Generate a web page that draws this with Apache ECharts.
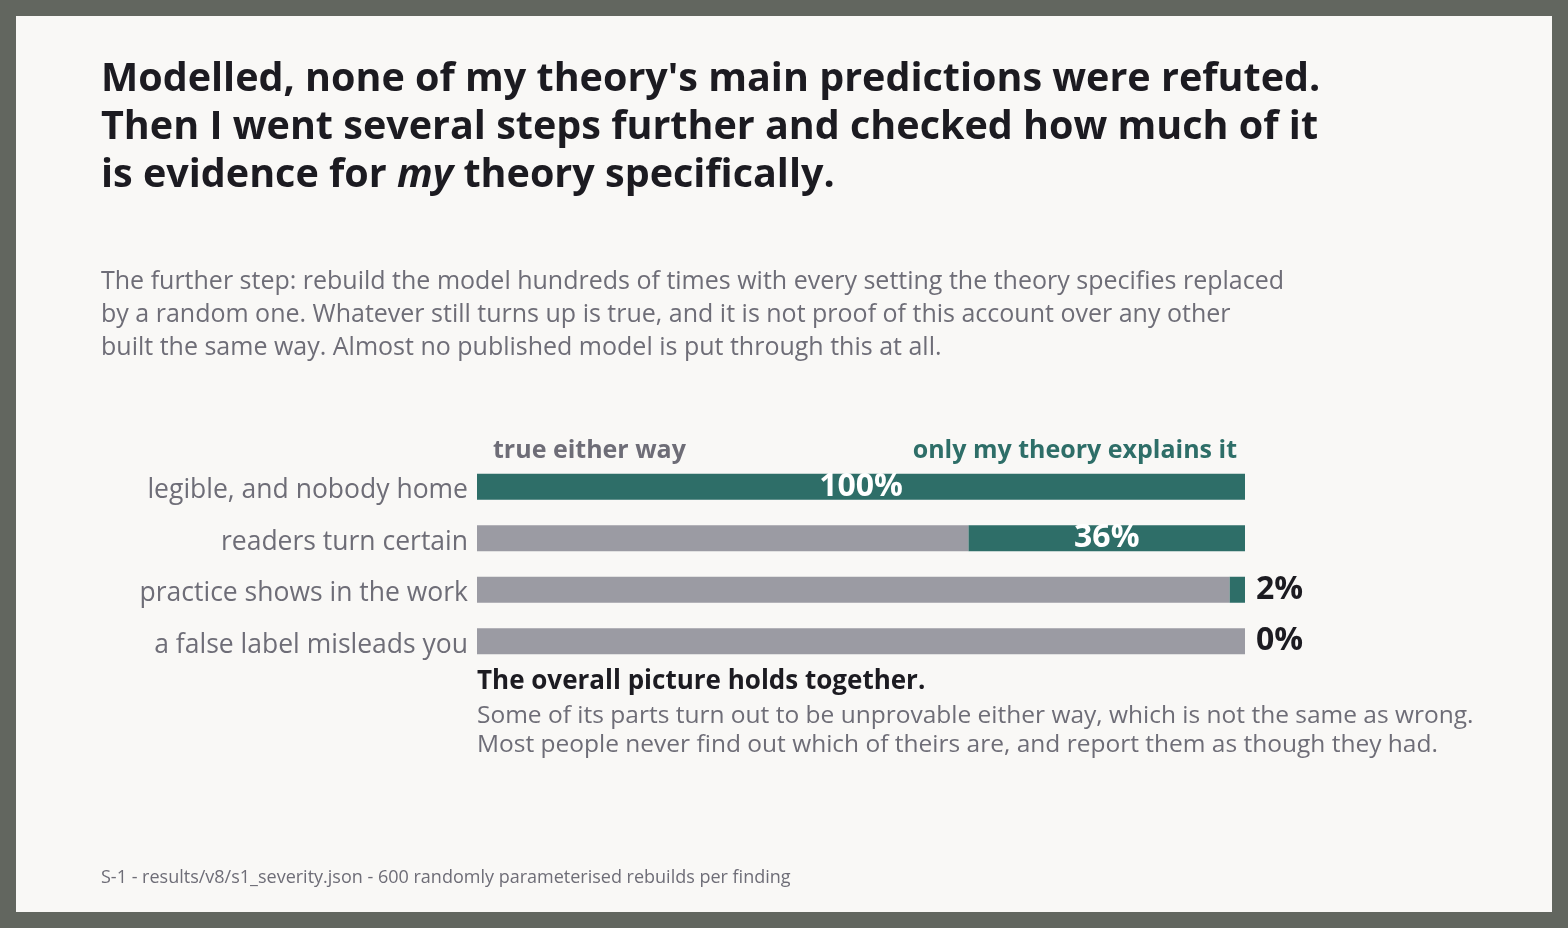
<!DOCTYPE html>
<html><head><meta charset="utf-8">
<script src="https://cdn.jsdelivr.net/npm/echarts@6/dist/echarts.min.js"></script>
<style>
html,body{margin:0;padding:0;background:#62665f;}
#c{position:absolute;left:16px;top:16px;width:1536px;height:896px;background:#f9f8f6;}
</style></head>
<body><div id="c"></div>
<script>
const categories = ["legible, and nobody home","readers turn certain","practice shows in the work","a false label misleads you"];
const trueEitherWay = [0, 64, 98, 100];
const onlyMyTheory = [100, 36, 2, 0];
const seriesNames = ["true either way","only my theory explains it"];
const titleLines = ["Modelled, none of my theory's main predictions were refuted.","Then I went several steps further and checked how much of it"];
const subtitleLines = ["The further step: rebuild the model hundreds of times with every setting the theory specifies replaced","by a random one. Whatever still turns up is true, and it is not proof of this account over any other","built the same way. Almost no published model is put through this at all."];
const noteHead = "The overall picture holds together.";
const noteLines = ["Some of its parts turn out to be unprovable either way, which is not the same as wrong.","Most people never find out which of theirs are, and report them as though they had."];
const footer = "S-1 - results/v8/s1_severity.json - 600 randomly parameterised rebuilds per finding";

const FONT = "'Open Sans', 'Noto Sans', sans-serif";
const TEAL = "#2e6e68", GREY = "#9b9ba3", DARK = "#1c1b21", MUTED = "#6e6d77";
const chart = echarts.init(document.getElementById('c'), null, {renderer:'canvas'});
const OX = -16, OY = -16; // page -> container offset

function txt(x, y, text, font, fill, align){
  return {type:'text', x:x+OX, y:y+OY, style:{text, font, fill, align:align||'left', verticalAlign:'middle'}};
}
const g = [];
titleLines.forEach((t,i)=>g.push(txt(101, 80+i*48, t, `bold 39.5px ${FONT}`, DARK)));
g.push({type:'text',x:101+OX,y:80+2*48+OY,style:{verticalAlign:'middle',text:'{a|is evidence for }{b|my}{a| theory specifically.}',rich:{a:{font:`bold 39.5px ${FONT}`,fill:DARK},b:{font:`italic bold 39.5px ${FONT}`,fill:DARK}}}});
subtitleLines.forEach((t,i)=>g.push(txt(101, 282+i*33, t, `25px ${FONT}`, MUTED)));
g.push(txt(493, 451, seriesNames[0], `bold 25px ${FONT}`, MUTED));
g.push(txt(1237, 451, seriesNames[1], `bold 25px ${FONT}`, TEAL, 'right'));
g.push(txt(477, 682, noteHead, `bold 26px ${FONT}`, DARK));
noteLines.forEach((t,i)=>g.push(txt(477, 716+i*29, t, `24.5px ${FONT}`, MUTED)));
g.push(txt(101, 878, footer, `18px ${FONT}`, MUTED));

chart.setOption({
  animation:false,
  textStyle:{fontFamily:FONT},
  grid:{left:477+OX,right:1568-1245-16,top:461+OY,bottom:928-667-16,containLabel:false},
  xAxis:{type:'value',min:0,max:100,show:false},
  yAxis:{type:'category',data:categories,inverse:true,axisLine:{show:false},axisTick:{show:false},
    axisLabel:{margin:9,formatter:v=>'{c|'+v+'}',
      rich:{c:{fontSize:26.5,color:MUTED,fontFamily:FONT,padding:[8,0,0,0]}}}},
  series:[
    {name:seriesNames[0],type:'bar',stack:'s',data:trueEitherWay,barWidth:26,itemStyle:{color:GREY},silent:true},
    {name:seriesNames[1],type:'bar',stack:'s',barWidth:26,itemStyle:{color:TEAL},silent:true,
      data:onlyMyTheory.map(v=>({value:v,label:v>=10?
        {show:true,position:'inside',color:'#fff',fontSize:32,fontWeight:'bold',offset:[0,0]}:
        {show:true,position:'right',color:DARK,fontSize:32,fontWeight:'bold',distance:11,offset:[0,0]}})),
      label:{show:true,formatter:p=>p.value+'%'}}
  ],
  graphic:g
});
</script></body></html>
